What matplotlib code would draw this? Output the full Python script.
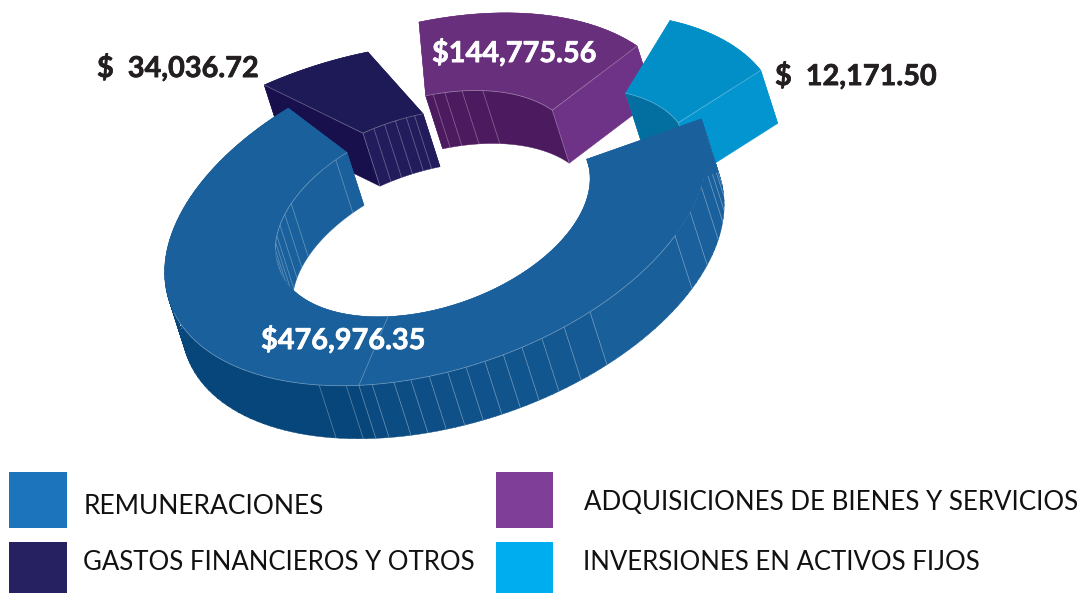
"""Exploded 3D ring of budget groups, drawn in pixel coordinates of the picture."""

import numpy as np
import matplotlib.pyplot as plt
import matplotlib.patheffects as pe
from matplotlib.colors import to_rgb
from matplotlib.patches import PathPatch, Polygon, Rectangle
from matplotlib.path import Path

plt.rcParams["font.family"] = ["Lato", "DejaVu Sans"]

# data
categories = [
    "REMUNERACIONES",
    "ADQUISICIONES DE BIENES Y SERVICIOS",
    "GASTOS FINANCIEROS Y OTROS",
    "INVERSIONES EN ACTIVOS FIJOS",
]
amounts = [476976.35, 144775.56, 34036.72, 12171.50]
legend_colors = ["#1c75bc", "#7f3f98", "#262262", "#00aeef"]

# the ring in the source is not to scale, so sweeps are read off the picture
wedge_start = [-12, -88.4, -110.2, -53.7]
wedge_sweep = [249, 54.7, 22.3, 31.6]
top_colors = ["#19609c", "#682f7c", "#1e1a57", "#028fc7"]
outer_wall_colors = ["#07467a", "#682f7c", "#1e1a57", "#028fc7"]
inner_wall_colors = ["#19609c", "#4c1a5e", "#221c5c", "#036fa0"]
cut_colors = ["#19609c", "#6e3386", "#180f4d", "#0295d0"]
outer_wall_ticks = [
    115.5, 109.3, 103.6, 98.9, 95.3, 91.4, 87.5, 83.6, 79.6, 75.6, 71.5, 67,
    61.8, 55.4, 28.2, 20.4, 12, 6, 2, -3, -7,
]
inner_wall_ticks = [
    [232, 206, 200, 194, 188, 184, 180, 176],
    [-85.7, -81.4, -75, -67],
    [-106, -102, -98, -94, -91],
    [],
]
blue_seam = 106.5

# layout
OUTER_C = np.array([435.9, 211.9])
OUTER_L = np.array([[271.3, 0.0], [-60.4, 163.0]])
INNER_C = np.array([432.7, 214.0])
INNER_L = np.array([[157.4, 0.0], [-35.5, 96.5]])
DEPTH = np.array([17.0, 53.0])
outer_shift = [(0, 0), (-24.5, -25.2), (-78, 5.2), (73.5, -24.2)]
inner_shift = [(0, 0), (-11.4, -20.7), (-15.4, -2.5), (99.7, -22)]
SEAM = (1, 1, 1, 0.3)


def ring_arc(center, shape, t0, t1, shift=(0, 0), n=120):
    t = np.radians(np.linspace(t0, t1, n))
    pts = center[None, :] + (shape @ np.vstack([np.cos(t), np.sin(t)])).T
    return pts + np.asarray(shift, float)


def outer_arc(i, t0, t1, extra=(0, 0), n=120):
    return ring_arc(OUTER_C, OUTER_L, t0, t1, np.add(outer_shift[i], extra), n)


def inner_arc(i, t0, t1, extra=(0, 0)):
    return ring_arc(INNER_C, INNER_L, t0, t1, np.add(inner_shift[i], extra))


def face(ax, pts, color):
    ax.add_patch(Polygon(pts, closed=True, fc=color, ec=color, lw=0.3, zorder=2))


def seam(ax, pts):
    pts = np.asarray(pts)
    ax.plot(pts[:, 0], pts[:, 1], color=SEAM, lw=0.6, solid_capstyle="butt", zorder=2)


def swept_wall(ax, i, a, b, color):
    # one compound path of quads: keeps the straight tangent edges, no hairlines
    n = max(3, int(abs(b - a) / 2) + 2)
    pts = outer_arc(i, a, b, n=n)
    if a < b:
        pts = pts[::-1]
    quads = [Path([p, q, q + DEPTH, p + DEPTH, p], closed=True) for p, q in zip(pts[:-1], pts[1:])]
    path = Path.make_compound_path(*quads)
    ax.add_patch(PathPatch(path, fc=color, ec=color, lw=0.3, zorder=2))


def blue_wall_color(t):
    # outer wall of the big wedge fades into the top colour towards the right
    frac = np.clip((blue_seam - t) / 66, 0, 1)
    dark, light = np.array(to_rgb("#0a4a80")), np.array(to_rgb(top_colors[0]))
    return tuple(dark + (light - dark) * frac)


def draw_wedge(ax, i):
    t0, t1 = wedge_start[i], wedge_start[i] + wedge_sweep[i]

    # outer wall, mostly hidden below the top face
    if i == 0:
        edges = [t for t in outer_wall_ticks if t < blue_seam]
        edges = [blue_seam] + edges + [t0]
        for a, b in zip(edges[:-1], edges[1:]):
            swept_wall(ax, i, a, b, blue_wall_color((a + b) / 2))
        swept_wall(ax, i, blue_seam, t1, outer_wall_colors[i])
        for t in outer_wall_ticks:
            p = outer_arc(i, t, t)[0]
            seam(ax, [p, p + DEPTH])
    else:
        swept_wall(ax, i, t0, t1, outer_wall_colors[i])

    # both cut ends
    for t in (t0, t1):
        a, b = outer_arc(i, t, t)[0], inner_arc(i, t, t)[0]
        face(ax, [a, b, b + DEPTH, a + DEPTH], cut_colors[i])

    # inner wall with its facet lines
    wall = np.vstack([inner_arc(i, t0, t1), inner_arc(i, t0, t1, DEPTH)[::-1]])
    face(ax, wall, inner_wall_colors[i])
    for t in inner_wall_ticks[i]:
        p = inner_arc(i, t, t)[0]
        seam(ax, [p, p + DEPTH])

    # top face goes last so it hides the far parts of the walls
    top = np.vstack([outer_arc(i, t0, t1), inner_arc(i, t0, t1)[::-1]])
    face(ax, top, top_colors[i])


fig = plt.figure(figsize=(10.81, 5.93), dpi=100)
ax = fig.add_axes([0, 0, 1, 1])
ax.set_xlim(0, 1081)
ax.set_ylim(593, 0)
ax.axis("off")

# back to front: purple, cyan, navy, then the big blue wedge
for i in (1, 3, 2, 0):
    draw_wedge(ax, i)
    t0, t1 = wedge_start[i], wedge_start[i] + wedge_sweep[i]
    if i == 0:
        seam(ax, outer_arc(0, 28, 165))
        seam(ax, [inner_arc(0, blue_seam, blue_seam)[0], outer_arc(0, blue_seam, blue_seam)[0]])
        p = outer_arc(0, blue_seam, blue_seam)[0]
        seam(ax, [p, p + DEPTH])
        seam(ax, inner_arc(0, 180, t1))
    else:
        seam(ax, inner_arc(i, t0, t1))
        end = t0 if i == 2 else t1
        seam(ax, [outer_arc(i, end, end)[0], inner_arc(i, end, end)[0]])
        p = inner_arc(i, end, end)[0]
        seam(ax, [p, p + DEPTH])

# value labels
label_font = dict(fontsize=20.8, fontweight="bold", va="center", ha="left", zorder=3)


def value_label(x, y, text, color):
    label = ax.text(x, y, text, color=color, **label_font)
    label.set_path_effects([pe.withStroke(linewidth=0.5, foreground=color)])


value_label(261, 340, f"${amounts[0]:,.2f}", "white")
value_label(432, 53, f"${amounts[1]:,.2f}", "white")
value_label(97, 68, f"$  {amounts[2]:,.2f}", "#231f20")
value_label(775, 76, f"$  {amounts[3]:,.2f}", "#231f20")

# legend
swatches = [(9, 472, 58, 56), (496, 472, 57, 56), (9, 542, 58, 51), (496, 542, 57, 51)]
text_pos = [(84, 507), (584, 502), (83, 562), (583, 562)]
legend_sizes = [19, 18.6, 18.5, 18.5]
for name, color, box, pos, size in zip(categories, legend_colors, swatches, text_pos, legend_sizes):
    ax.add_patch(Rectangle(box[:2], box[2], box[3], fc=color, ec="none"))
    ax.text(pos[0], pos[1], name, fontsize=size, color="#111111", va="center", ha="left")

fig.savefig("out.png", dpi=100)
